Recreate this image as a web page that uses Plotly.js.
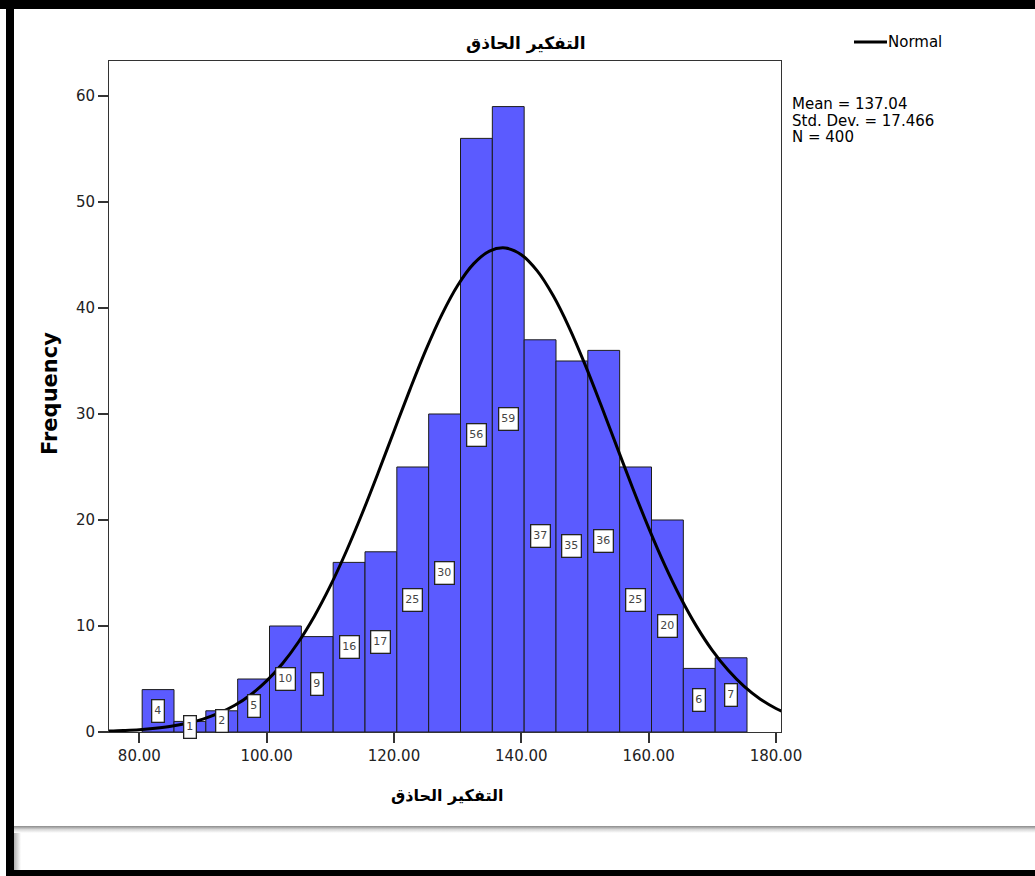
<!DOCTYPE html>
<html>
<head>
<meta charset="utf-8">
<script src="https://cdn.plot.ly/plotly-3.0.1.min.js"></script>
<style>
  html, body { margin: 0; padding: 0; background: #fff; }
  #wrap { position: relative; width: 1035px; height: 876px; overflow: hidden; }
  #chart { position: absolute; left: 0; top: 0; width: 1035px; height: 876px; }
  .fr { position: absolute; pointer-events: none; z-index: 10; }
</style>
</head>
<body>
<div id="wrap">
  <div id="chart"></div>
  <div class="fr" style="left:0;top:0;width:1035px;height:9px;background:#000;"></div>
  <div class="fr" style="left:6px;top:0;width:8px;height:876px;background:#000;"></div>
  <div class="fr" style="left:6px;top:870px;width:1029px;height:6px;background:#000;"></div>
  <div class="fr" style="left:14px;top:826px;width:1021px;height:7px;background:linear-gradient(#8a8a8a,#d8d8d8 50%,#fff);"></div>
  <div class="fr" style="left:14px;top:833px;width:7px;height:37px;background:linear-gradient(to right,#b0b0b0,#fff);"></div>
</div>
<script>
// ---- data ----
const titleText = "التفكير الحاذق";
const binCenters = [82.95, 87.95, 92.95, 97.95, 102.95, 107.95, 112.95, 117.95, 122.95, 127.95,
                    132.95, 137.95, 142.95, 147.95, 152.95, 157.95, 162.95, 167.95, 172.95];
const binWidth = 5;
const counts = [4, 1, 2, 5, 10, 9, 16, 17, 25, 30, 56, 59, 37, 35, 36, 25, 20, 6, 7];
// normal curve
const curveX = [75, 77.5, 80, 82.5, 85, 87.5, 90, 92.5, 95, 97.5, 100, 102.5, 105, 107.5, 110, 112.5,
                115, 117.5, 120, 122.5, 125, 127.5, 130, 132.5, 135, 137.5, 140, 142.5, 145, 147.5,
                150, 152.5, 155, 157.5, 160, 162.5, 165, 167.5, 170, 172.5, 175, 177.5, 180, 182.5];
const curveY = [0.08, 0.14, 0.22, 0.35, 0.54, 0.82, 1.22, 1.77, 2.52, 3.52, 4.82, 6.46, 8.49, 10.93, 13.78, 17.03,
                20.61, 24.43, 28.38, 32.30, 36.02, 39.35, 42.12, 44.16, 45.37, 45.66, 45.03, 43.50, 41.17, 38.18,
                34.68, 30.87, 26.92, 23.00, 19.26, 15.79, 12.69, 9.99, 7.70, 5.82, 4.30, 3.12, 2.22, 1.54];
const statLines = ["Mean = 137.04", "Std. Dev. = 17.466", "N = 400"];
const legendName = "Normal";
const xTicks = [80, 100, 120, 140, 160, 180];
const yTicks = [0, 10, 20, 30, 40, 50, 60];

// ---- layout helpers (pixel -> paper) ----
const L = 109, R = 781, T = 61, B = 732, W = 1035, H = 876;
const px = x => (x - L) / (R - L);
const py = y => (B - y) / (B - T);

const FONT = "DejaVu Sans, Arial, sans-serif";

const bars = {
  type: "bar",
  x: binCenters,
  y: counts,
  width: counts.map(() => binWidth),
  marker: { color: "#5b5bff", line: { color: "#1c1c1c", width: 1 } },
  hoverinfo: "x+y",
  showlegend: false
};

const curve = {
  type: "scatter",
  mode: "lines",
  x: curveX,
  y: curveY,
  line: { color: "#000", width: 3, shape: "spline", smoothing: 1 },
  showlegend: false,
  hoverinfo: "skip"
};

const annotations = [];
// count boxes
counts.forEach((c, i) => {
  annotations.push({
    x: binCenters[i], y: c / 2, xref: "x", yref: "y",
    text: String(c), showarrow: false,
    font: { family: FONT, size: 11, color: "#444" },
    height: 17,
    bgcolor: "#fff", bordercolor: "#222", borderwidth: 1.3, borderpad: 2
  });
});
// title
annotations.push({
  x: px(525), y: py(44), xref: "paper", yref: "paper", xanchor: "center", yanchor: "middle",
  text: "<b>" + titleText + "</b>", showarrow: false,
  font: { family: FONT, size: 17, color: "#000" }
});
// x title
annotations.push({
  x: px(447), y: py(795), xref: "paper", yref: "paper", xanchor: "center", yanchor: "middle",
  text: "<b>" + titleText + "</b>", showarrow: false,
  font: { family: FONT, size: 16, color: "#000" }
});
// y title
annotations.push({
  x: px(50), y: py(394), xref: "paper", yref: "paper", xanchor: "center", yanchor: "middle",
  text: "<b>Frequency</b>", showarrow: false, textangle: -90,
  font: { family: FONT, size: 21, color: "#000" }
});
// stats
statLines.forEach((s, i) => {
  annotations.push({
    x: px(790), y: py(104 + i * 16.5), xref: "paper", yref: "paper", xanchor: "left", yanchor: "middle",
    text: s, showarrow: false,
    font: { family: FONT, size: 15, color: "#000" }
  });
});
// legend text
annotations.push({
  x: px(886), y: py(42), xref: "paper", yref: "paper", xanchor: "left", yanchor: "middle",
  text: legendName, showarrow: false,
  font: { family: FONT, size: 15, color: "#000" }
});

const shapes = [{
  type: "line", xref: "paper", yref: "paper",
  x0: px(854), x1: px(887), y0: py(42), y1: py(42),
  line: { color: "#000", width: 3 }
}];

const layout = {
  width: W, height: H,
  margin: { l: L, r: W - R, t: T, b: H - B },
  paper_bgcolor: "#fff", plot_bgcolor: "#fff",
  bargap: 0,
  showlegend: false,
  font: { family: FONT, size: 15, color: "#222" },
  xaxis: {
    range: [75.24, 180.79], tickvals: xTicks, ticktext: xTicks.map(v => v.toFixed(2)),
    ticks: "outside", ticklen: 10, tickwidth: 2, tickcolor: "#333",
    showline: true, linecolor: "#333", linewidth: 1, mirror: true,
    showgrid: false, zeroline: false,
    tickfont: { family: FONT, size: 15, color: "#222" }
  },
  yaxis: {
    range: [0, 63.3], tickvals: yTicks, ticktext: yTicks.map(String),
    ticks: "outside", ticklen: 10, tickwidth: 2, tickcolor: "#333",
    showline: true, linecolor: "#333", linewidth: 1, mirror: true,
    showgrid: false, zeroline: false,
    tickfont: { family: FONT, size: 15, color: "#222" }
  },
  annotations: annotations,
  shapes: shapes
};

Plotly.newPlot("chart", [bars, curve], layout, { displayModeBar: false, staticPlot: true });
</script>
</body>
</html>
